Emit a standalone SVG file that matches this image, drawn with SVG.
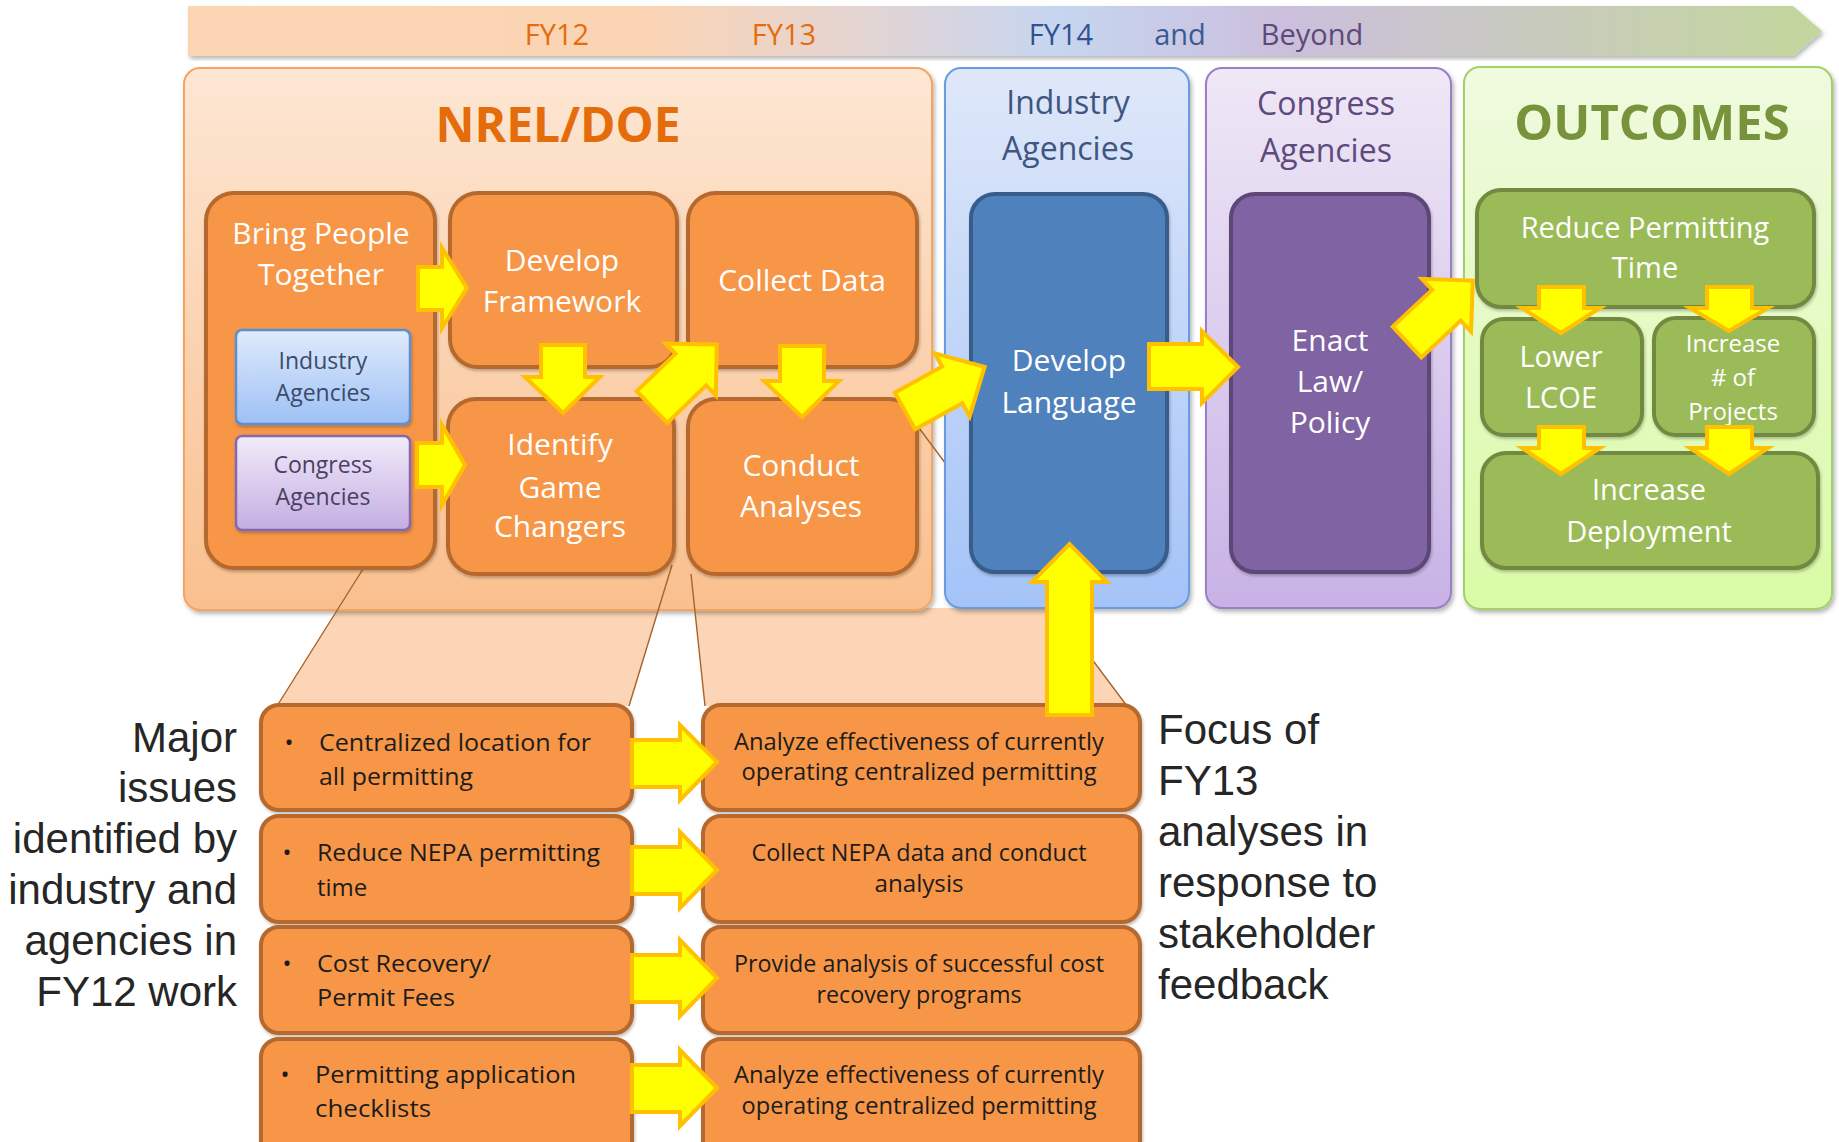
<svg xmlns="http://www.w3.org/2000/svg" width="1839" height="1142" viewBox="0 0 1839 1142">
<style>
.arrow{fill:#ffff00;stroke:#ffc000;stroke-width:4;stroke-linejoin:miter}
.ob{fill:#f79646;stroke:#b5692d;stroke-width:4}
.gb{fill:#9bbb59;stroke:#71893f;stroke-width:4}
.cal{font-family:'Open Sans','Noto Sans',sans-serif}
.wt{font-family:'Open Sans','Noto Sans',sans-serif;fill:#ffffff;text-anchor:middle}
.bt{font-family:'Open Sans','Noto Sans',sans-serif;fill:#1c1c1c;font-size:24px}
.rt{font-family:'Open Sans','Noto Sans',sans-serif;fill:#1c1c1c;font-size:23px;text-anchor:middle}
.ar{font-family:'Liberation Sans',Arial,sans-serif;fill:#262626;font-size:42px}
.zl{fill:none;stroke:#a8622a;stroke-width:1.4}
</style>
<defs>
<filter id="sh" x="-5%" y="-5%" width="112%" height="115%">
<feDropShadow dx="2" dy="3" stdDeviation="2" flood-color="#000" flood-opacity="0.28"/>
</filter>
<filter id="sh2" x="-5%" y="-5%" width="112%" height="115%">
<feDropShadow dx="1" dy="2" stdDeviation="1.5" flood-color="#000" flood-opacity="0.25"/>
</filter>
<linearGradient id="gBanner" x1="188" y1="0" x2="1824" y2="0" gradientUnits="userSpaceOnUse">
<stop offset="0" stop-color="#fcd5b4"/>
<stop offset="0.28" stop-color="#fbd4b4"/>
<stop offset="0.4" stop-color="#e6d4cf"/>
<stop offset="0.53" stop-color="#c6d6f0"/>
<stop offset="0.67" stop-color="#cbbfdd"/>
<stop offset="0.8" stop-color="#c9c9c3"/>
<stop offset="1" stop-color="#c3d69b"/>
</linearGradient>
<linearGradient id="gNrel" x1="0" y1="0" x2="0" y2="1">
<stop offset="0" stop-color="#fde7d4"/>
<stop offset="1" stop-color="#fabf8e"/>
</linearGradient>
<linearGradient id="gInd" x1="0" y1="0" x2="0" y2="1">
<stop offset="0" stop-color="#dfe8f9"/>
<stop offset="1" stop-color="#a4c3f8"/>
</linearGradient>
<linearGradient id="gCon" x1="0" y1="0" x2="0" y2="1">
<stop offset="0" stop-color="#efe8f6"/>
<stop offset="1" stop-color="#c8b2e6"/>
</linearGradient>
<linearGradient id="gOut" x1="0" y1="0" x2="0" y2="1">
<stop offset="0" stop-color="#f0fadf"/>
<stop offset="1" stop-color="#d9fba6"/>
</linearGradient>
<linearGradient id="gSInd" x1="0" y1="0" x2="0" y2="1">
<stop offset="0" stop-color="#e0ebfd"/>
<stop offset="1" stop-color="#9dc0f5"/>
</linearGradient>
<linearGradient id="gSCon" x1="0" y1="0" x2="0" y2="1">
<stop offset="0" stop-color="#f2ebf9"/>
<stop offset="1" stop-color="#c3ade2"/>
</linearGradient>
</defs>

<rect x="0" y="0" width="1839" height="1142" fill="#ffffff"/>

<g id="timeline">
<path d="M188,6 H1793 L1822,31 L1793,56 H188 Z" fill="url(#gBanner)" filter="url(#sh)"/>
<text class="cal" x="557" y="45" font-size="29" fill="#e46c0a" text-anchor="middle">FY12</text>
<text class="cal" x="784" y="45" font-size="29" fill="#e46c0a" text-anchor="middle">FY13</text>
<text class="cal" x="1061" y="45" font-size="29" fill="#2f528f" text-anchor="middle">FY14</text>
<text class="cal" x="1180" y="45" font-size="29" fill="#3a5a94" text-anchor="middle">and</text>
<text class="cal" x="1312" y="45" font-size="29" fill="#5f497a" text-anchor="middle">Beyond</text>
</g>

<g id="zoom-fills">
<polygon points="363,569 672,565 629,706 277,706" fill="#fbd5b5"/>
<polygon points="694.6,608 1053.7,608 1127,706 705,706" fill="#fbd5b5"/>
</g>

<g id="panel-nrel">
<rect x="184" y="68" width="748" height="542" rx="16" fill="url(#gNrel)" stroke="#f5a462" stroke-width="2" filter="url(#sh)"/>
<text class="cal" x="558" y="142" font-size="48" font-weight="bold" fill="#e46c0a" text-anchor="middle">NREL/DOE</text>
</g>

<g id="zoom-lines">
<line class="zl" x1="363" y1="569" x2="277" y2="706"/>
<line class="zl" x1="672" y1="565" x2="629" y2="706"/>
<line class="zl" x1="691" y1="574" x2="705" y2="706"/>
<line class="zl" x1="919" y1="428" x2="1127" y2="706"/>
</g>

<g id="panel-industry">
<rect x="945" y="68" width="244" height="540" rx="16" fill="url(#gInd)" stroke="#6b9be0" stroke-width="2" filter="url(#sh)"/>
<text class="cal" x="1068" y="114" font-size="32" fill="#40557f" text-anchor="middle">Industry</text>
<text class="cal" x="1068" y="160" font-size="32" fill="#40557f" text-anchor="middle">Agencies</text>
</g>

<g id="panel-congress">
<rect x="1206" y="68" width="245" height="540" rx="16" fill="url(#gCon)" stroke="#9a7fc4" stroke-width="2" filter="url(#sh)"/>
<text class="cal" x="1326" y="115" font-size="32" fill="#5e4a7e" text-anchor="middle">Congress</text>
<text class="cal" x="1326" y="162" font-size="32" fill="#5e4a7e" text-anchor="middle">Agencies</text>
</g>

<g id="panel-outcomes">
<rect x="1464" y="67" width="368" height="542" rx="16" fill="url(#gOut)" stroke="#a3d06a" stroke-width="2" filter="url(#sh)"/>
<text class="cal" x="1652" y="140" font-size="49" font-weight="bold" fill="#77933c" text-anchor="middle">OUTCOMES</text>
</g>

<g id="node-bring-people">
<rect class="ob" x="206" y="193" width="229" height="375" rx="28" filter="url(#sh2)"/>
<text class="wt" x="321" y="244" font-size="30">Bring People</text>
<text class="wt" x="321" y="285" font-size="30">Together</text>
</g>
<g id="node-small-industry">
<rect x="236" y="330" width="174" height="94" rx="6" fill="url(#gSInd)" stroke="#5b8ed2" stroke-width="2.5" filter="url(#sh2)"/>
<text class="cal" x="323" y="369" font-size="23" fill="#3b4a6b" text-anchor="middle">Industry</text>
<text class="cal" x="323" y="401" font-size="23" fill="#3b4a6b" text-anchor="middle">Agencies</text>
</g>
<g id="node-small-congress">
<rect x="236" y="436" width="174" height="94" rx="6" fill="url(#gSCon)" stroke="#8469b1" stroke-width="2.5" filter="url(#sh2)"/>
<text class="cal" x="323" y="473" font-size="23" fill="#4b3f63" text-anchor="middle">Congress</text>
<text class="cal" x="323" y="505" font-size="23" fill="#4b3f63" text-anchor="middle">Agencies</text>
</g>
<g id="node-develop-framework">
<rect class="ob" x="450" y="193" width="227" height="174" rx="28" filter="url(#sh2)"/>
<text class="wt" x="562" y="271" font-size="30">Develop</text>
<text class="wt" x="562" y="312" font-size="30">Framework</text>
</g>
<g id="node-collect-data">
<rect class="ob" x="688" y="193" width="229" height="174" rx="28" filter="url(#sh2)"/>
<text class="wt" x="802" y="291" font-size="30">Collect Data</text>
</g>
<g id="node-identify">
<rect class="ob" x="448" y="399" width="226" height="175" rx="28" filter="url(#sh2)"/>
<text class="wt" x="560" y="455" font-size="30">Identify</text>
<text class="wt" x="560" y="498" font-size="30">Game</text>
<text class="wt" x="560" y="537" font-size="30">Changers</text>
</g>
<g id="node-conduct">
<rect class="ob" x="688" y="399" width="229" height="175" rx="28" filter="url(#sh2)"/>
<text class="wt" x="801" y="476" font-size="30">Conduct</text>
<text class="wt" x="801" y="517" font-size="30">Analyses</text>
</g>
<g id="node-develop-language">
<rect x="971" y="194" width="196" height="378" rx="24" fill="#4f81bd" stroke="#385d8a" stroke-width="4" filter="url(#sh2)"/>
<text class="wt" x="1069" y="371" font-size="30">Develop</text>
<text class="wt" x="1069" y="413" font-size="30">Language</text>
</g>
<g id="node-enact">
<rect x="1231" y="194" width="198" height="378" rx="24" fill="#8064a2" stroke="#5c4776" stroke-width="4" filter="url(#sh2)"/>
<text class="wt" x="1330" y="351" font-size="30">Enact</text>
<text class="wt" x="1330" y="392" font-size="30">Law/</text>
<text class="wt" x="1330" y="433" font-size="30">Policy</text>
</g>
<g id="node-reduce-time">
<rect class="gb" x="1477" y="190" width="337" height="117" rx="24" filter="url(#sh2)"/>
<text class="wt" x="1645" y="238" font-size="29">Reduce Permitting</text>
<text class="wt" x="1645" y="278" font-size="29">Time</text>
</g>
<g id="node-lower-lcoe">
<rect class="gb" x="1482" y="319" width="160" height="116" rx="22" filter="url(#sh2)"/>
<text class="wt" x="1561" y="367" font-size="29">Lower</text>
<text class="wt" x="1561" y="408" font-size="29">LCOE</text>
</g>
<g id="node-increase-projects">
<rect class="gb" x="1654" y="318" width="160" height="117" rx="22" filter="url(#sh2)"/>
<text class="wt" x="1733" y="352" font-size="24">Increase</text>
<text class="wt" x="1733" y="386" font-size="24"># of</text>
<text class="wt" x="1733" y="420" font-size="24">Projects</text>
</g>
<g id="node-increase-deployment">
<rect class="gb" x="1482" y="453" width="336" height="115" rx="24" filter="url(#sh2)"/>
<text class="wt" x="1649" y="500" font-size="29">Increase</text>
<text class="wt" x="1649" y="542" font-size="29">Deployment</text>
</g>

<g id="label-major-issues">
<text class="ar" x="237" y="752" text-anchor="end">Major</text>
<text class="ar" x="237" y="802" text-anchor="end">issues</text>
<text class="ar" x="237" y="853" text-anchor="end">identified by</text>
<text class="ar" x="237" y="904" text-anchor="end">industry and</text>
<text class="ar" x="237" y="955" text-anchor="end">agencies in</text>
<text class="ar" x="237" y="1006" text-anchor="end">FY12 work</text>
</g>
<g id="label-focus">
<text class="ar" x="1158" y="744">Focus of</text>
<text class="ar" x="1158" y="795">FY13</text>
<text class="ar" x="1158" y="846">analyses in</text>
<text class="ar" x="1158" y="897">response to</text>
<text class="ar" x="1158" y="948">stakeholder</text>
<text class="ar" x="1158" y="999">feedback</text>
</g>

<g id="node-issue-1">
<rect class="ob" x="261" y="705" width="371" height="105" rx="18" filter="url(#sh2)"/>
<text class="bt" x="289" y="751" text-anchor="middle">•</text>
<text class="bt" x="319" y="751" textLength="272" lengthAdjust="spacingAndGlyphs">Centralized location for</text>
<text class="bt" x="319" y="785" textLength="154" lengthAdjust="spacingAndGlyphs">all permitting</text>
</g>
<g id="node-issue-2">
<rect class="ob" x="261" y="816" width="371" height="106" rx="18" filter="url(#sh2)"/>
<text class="bt" x="287" y="861" text-anchor="middle">•</text>
<text class="bt" x="317" y="861" textLength="283" lengthAdjust="spacingAndGlyphs">Reduce NEPA permitting</text>
<text class="bt" x="317" y="896">time</text>
</g>
<g id="node-issue-3">
<rect class="ob" x="261" y="927" width="371" height="106" rx="18" filter="url(#sh2)"/>
<text class="bt" x="287" y="972" text-anchor="middle">•</text>
<text class="bt" x="317" y="972" textLength="174" lengthAdjust="spacingAndGlyphs">Cost Recovery/</text>
<text class="bt" x="317" y="1006" textLength="138" lengthAdjust="spacingAndGlyphs">Permit Fees</text>
</g>
<g id="node-issue-4">
<rect class="ob" x="261" y="1039" width="371" height="130" rx="18" filter="url(#sh2)"/>
<text class="bt" x="285" y="1083" text-anchor="middle">•</text>
<text class="bt" x="315" y="1083" textLength="261" lengthAdjust="spacingAndGlyphs">Permitting application</text>
<text class="bt" x="315" y="1117" textLength="116" lengthAdjust="spacingAndGlyphs">checklists</text>
</g>

<g id="node-analysis-1">
<rect class="ob" x="703" y="705" width="437" height="105" rx="18" filter="url(#sh2)"/>
<text class="rt" x="919" y="750" textLength="370" lengthAdjust="spacingAndGlyphs">Analyze effectiveness of currently</text>
<text class="rt" x="919" y="780" textLength="355" lengthAdjust="spacingAndGlyphs">operating centralized permitting</text>
</g>
<g id="node-analysis-2">
<rect class="ob" x="703" y="816" width="437" height="106" rx="18" filter="url(#sh2)"/>
<text class="rt" x="919" y="861" textLength="335" lengthAdjust="spacingAndGlyphs">Collect NEPA data and conduct</text>
<text class="rt" x="919" y="892" textLength="89" lengthAdjust="spacingAndGlyphs">analysis</text>
</g>
<g id="node-analysis-3">
<rect class="ob" x="703" y="927" width="437" height="106" rx="18" filter="url(#sh2)"/>
<text class="rt" x="919" y="972" textLength="370" lengthAdjust="spacingAndGlyphs">Provide analysis of successful cost</text>
<text class="rt" x="919" y="1003" textLength="205" lengthAdjust="spacingAndGlyphs">recovery programs</text>
</g>
<g id="node-analysis-4">
<rect class="ob" x="703" y="1039" width="437" height="130" rx="18" filter="url(#sh2)"/>
<text class="rt" x="919" y="1083" textLength="370" lengthAdjust="spacingAndGlyphs">Analyze effectiveness of currently</text>
<text class="rt" x="919" y="1114" textLength="355" lengthAdjust="spacingAndGlyphs">operating centralized permitting</text>
</g>

<g id="connectors">
<path class="arrow" d="M418,267 H442 V248 L467,288 L442,328 V310 H418 Z"/>
<path class="arrow" d="M417,443 H442 V425 L465,465 L442,505 V487 H417 Z"/>
<path class="arrow" d="M541,345 H585 V377 H600 L563,413 L525,377 H541 Z"/>
<path class="arrow" d="M780,346 H824 V381 H839 L802,417 L764,381 H780 Z"/>
<path class="arrow" transform="translate(652,407) rotate(-44)" d="M0,-22 H54 V-36 L90,0 L54,36 V22 H0 Z"/>
<path class="arrow" transform="translate(905,411) rotate(-29)" d="M0,-21 H54 V-36 L91,0 L54,36 V21 H0 Z"/>
<path class="arrow" d="M1149,344 H1202 V331 L1238,367 L1202,403 V389 H1149 Z"/>
<path class="arrow" transform="translate(1407,342) rotate(-43)" d="M0,-21 H54 V-36 L90,0 L54,36 V21 H0 Z"/>
<path class="arrow" d="M1047,715 V582 H1032 L1069.5,544 L1107,582 H1092 V715 Z"/>
<path class="arrow" d="M1539,287 H1584 V308 H1600 L1561,333 L1522,308 H1539 Z"/>
<path class="arrow" d="M1707,287 H1752 V308 H1768 L1729,331 L1690,308 H1707 Z"/>
<path class="arrow" d="M1539,427 H1584 V448 H1600 L1561,474 L1522,448 H1539 Z"/>
<path class="arrow" d="M1707,427 H1752 V448 H1768 L1729,474 L1690,448 H1707 Z"/>
<path class="arrow" d="M632,740 H680 V725 L717,762 L680,800 V787 H632 Z"/>
<path class="arrow" d="M632,847 H680 V832 L717,870 L680,908 V894 H632 Z"/>
<path class="arrow" d="M632,955 H680 V940 L717,978 L680,1016 V1002 H632 Z"/>
<path class="arrow" d="M632,1065 H680 V1050 L717,1088 L680,1126 V1112 H632 Z"/>
</g>
</svg>
